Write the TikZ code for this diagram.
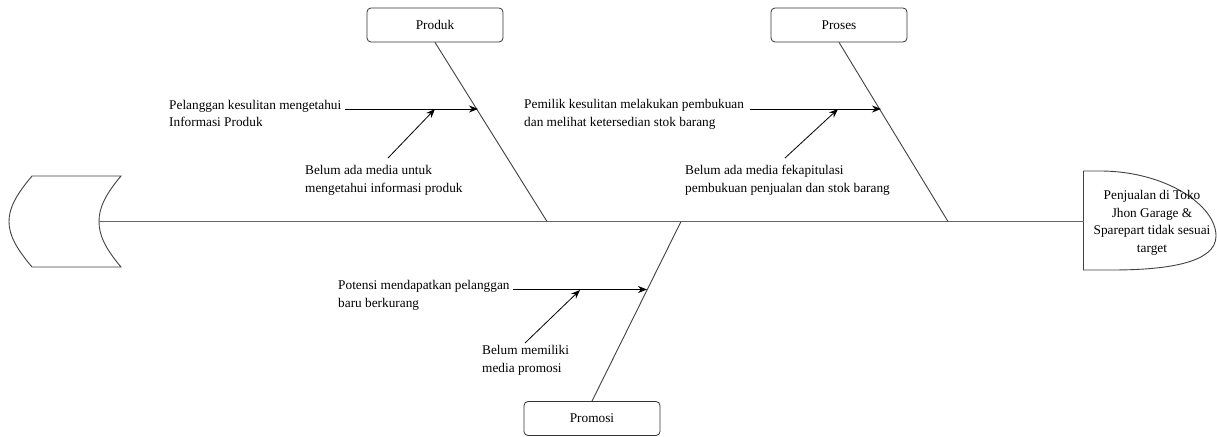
\documentclass[tikz,border=0pt]{standalone}
\usepackage{fontspec}
\setmainfont{Liberation Serif}
\usetikzlibrary{arrows.meta}
\newcommand{\fs}{\fontsize{13.3}{17.5}\selectfont}
\tikzset{
  causebox/.style={draw=black!80, line width=0.8pt, rounded corners=4pt, minimum width=136pt, minimum height=34pt, fill=white, font=\fs, inner sep=0pt},
  lbl/.style={font=\fs, align=left, inner sep=0pt, anchor=base west},
  bone/.style={draw=black!75, line width=0.9pt},
  arr/.style={draw=black, line width=0.8pt, -{Stealth[length=9pt,width=7pt]}},
}
\begin{document}
\begin{tikzpicture}[x=1pt,y=-1pt]
\useasboundingbox (0,0) rectangle (1217,436);
% tail
\draw[draw=black!75, line width=0.9pt] (32,176) -- (121,176) .. controls (105,195) and (99,208) .. (99,221.5)
  .. controls (99,235) and (105,248) .. (121,267) -- (32,267)
  .. controls (16,248) and (9,235) .. (9,221.5) .. controls (9,208) and (16,195) .. (32,176) -- cycle;
\coordinate (tail) at (99,221.5);
% head
\draw[draw=black!75, line width=0.9pt] (1083.5,171) -- (1100,171) .. controls (1165,171) and (1216,205) .. (1216,236)
  .. controls (1216,262) and (1170,270) .. (1112,270) -- (1083.5,270) -- cycle;
\coordinate (head) at (1083.5,221.5);
% last-line baseline
\node[font=\fs, align=center, inner sep=0pt, anchor=base] (headtxt) at (1152,252) {Penjualan di Toko\\Jhon Garage \&\\Sparepart tidak sesuai\\target};
% spine
\draw[draw=black!60, line width=1pt] (tail) -- (head);
% category boxes
\node[causebox] (produk) at (435,25) {Produk};
\node[causebox] (proses) at (839,25) {Proses};
\node[causebox] (promosi) at (592,418.5) {Promosi};
\coordinate (pj) at (547,221.5);
\coordinate (sj) at (948,221.5);
\coordinate (mj) at (681,221.5);
\draw[bone] (produk.south) -- (pj);
\draw[bone] (proses.south) -- (sj);
\draw[bone] (promosi.north) -- (mj);
% Produk causes (positions are baselines of the last line)
\node[lbl] (p1) at (169,126.5) {Pelanggan kesulitan mengetahui\\Informasi Produk};
\coordinate (p1s) at (345,109);
\coordinate (p1t) at (478,109);
\draw[arr] (p1s) -- (p1t);
\node[lbl] (p2) at (305,192) {Belum ada media untuk\\mengetahui informasi produk};
\coordinate (p2s) at (388,158);
\coordinate (p2t) at (435,109);
\draw[arr] (p2s) -- (p2t);
% Proses causes
\node[lbl] (s1) at (524,126) {Pemilik kesulitan melakukan pembukuan\\dan melihat ketersedian stok barang};
\coordinate (s1s) at (750,109);
\coordinate (s1t) at (881,109);
\draw[arr] (s1s) -- (s1t);
\node[lbl] (s2) at (685,192) {Belum ada media fekapitulasi\\pembukuan penjualan dan stok barang};
\coordinate (s2s) at (785,158);
\coordinate (s2t) at (838,109);
\draw[arr] (s2s) -- (s2t);
% Promosi causes
\node[lbl] (m1) at (338,307) {Potensi mendapatkan pelanggan\\baru berkurang};
\coordinate (m1s) at (513,289.5);
\coordinate (m1t) at (647,289.5);
\draw[arr] (m1s) -- (m1t);
\node[lbl] (m2) at (482,372) {Belum memiliki\\media promosi};
\coordinate (m2s) at (525,343);
\coordinate (m2t) at (580,290);
\draw[arr] (m2s) -- (m2t);
\end{tikzpicture}
\end{document}
